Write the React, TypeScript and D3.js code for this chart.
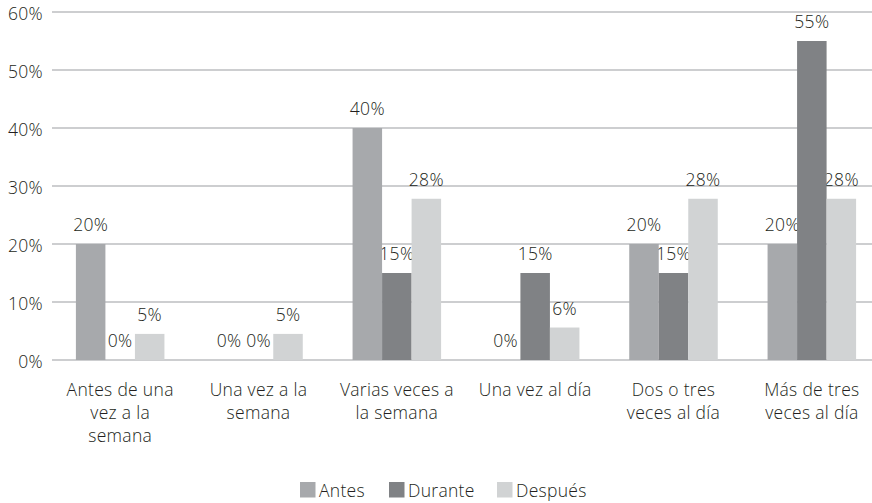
import React, { useEffect, useRef } from "react"
import * as d3 from "d3"

const categories = [
  "Antes de una vez a la semana",
  "Una vez a la semana",
  "Varias veces a la semana",
  "Una vez al día",
  "Dos o tres veces al día",
  "Más de tres veces al día",
]
const categoryLines = [
  ["Antes de una", "vez a la", "semana"],
  ["Una vez a la", "semana"],
  ["Varias veces a", "la semana"],
  ["Una vez al día"],
  ["Dos o tres", "veces al día"],
  ["Más de tres", "veces al día"],
]
const seriesNames = ["Antes", "Durante", "Después"]
const antes = [20, 0, 40, 0, 20, 20]
const durante = [0, 0, 15, 15, 15, 55]
const despues = [4.5, 4.5, 27.8, 5.6, 27.8, 27.8]
const yTicks = [0, 10, 20, 30, 40, 50, 60]

const colors = ["#a7a9ac", "#808285", "#d1d3d4"]
const textColor = "#231f20"
const font = "'Open Sans', sans-serif"

const styleText = (sel: any) =>
  sel.attr("font-size", 17.5)
    .attr("font-family", font)
    .attr("font-weight", 300)
    .attr("letter-spacing", 0.3)
    .attr("fill", textColor)

const App = () => {
  const svgRef = useRef<SVGSVGElement>(null)

  useEffect(() => {
    const width = 872
    const svg = d3.select(svgRef.current)
    svg.selectAll("*").remove()

    const values = [antes, durante, despues]
    const x0 = d3.scaleBand().domain(categories).range([51, 881]).paddingInner(0.36).paddingOuter(0.18)
    const x1 = d3.scaleBand().domain(seriesNames).range([0, x0.bandwidth()])
    const y = d3.scaleLinear().domain([0, 60]).range([360, 12])

    // grid
    svg.append("g")
      .selectAll("line")
      .data(yTicks)
      .join("line")
      .attr("x1", 52)
      .attr("x2", width)
      .attr("y1", d => y(d))
      .attr("y2", d => y(d))
      .attr("stroke", "#bcbec0")
      .attr("stroke-width", 1.5)

    const yAxis = d3.axisLeft(y).tickValues(yTicks).tickSize(0).tickPadding(9).tickFormat(d => d + "%")
    const ya = svg.append("g").attr("transform", "translate(52,0)").call(yAxis)
    ya.select(".domain").remove()
    styleText(ya.selectAll("text").attr("dy", "0.45em"))

    const rows = categories.flatMap((c, i) =>
      seriesNames.map((s, j) => ({ c, s, j, v: values[j][i] })))

    // labels go under the bars, neighbours cover them as in the original
    styleText(svg.append("g")
      .selectAll("text")
      .data(rows)
      .join("text")
      .attr("x", d => x0(d.c)! + x1(d.s)! + x1.bandwidth() / 2)
      .attr("y", d => y(d.v) - 13)
      .attr("text-anchor", "middle"))
      .text(d => Math.round(d.v) + "%")

    svg.append("g")
      .selectAll("rect")
      .data(rows)
      .join("rect")
      .attr("x", d => x0(d.c)! + x1(d.s)!)
      .attr("width", x1.bandwidth())
      .attr("y", d => y(d.v))
      .attr("height", d => y(0) - y(d.v))
      .attr("fill", d => colors[d.j])

    // category labels
    const cat = styleText(svg.append("g")
      .selectAll("text")
      .data(categories)
      .join("text")
      .attr("text-anchor", "middle"))
    cat.selectAll("tspan")
      .data((d, i) => categoryLines[i])
      .join("tspan")
      .attr("x", function () {
        const c = d3.select(this.parentNode as SVGTextElement).datum() as string
        return x0(c)! + x0.bandwidth() / 2
      })
      .attr("y", (d, i) => 396 + i * 23)
      .text(d => d)

    // legend
    const legendX = [300, 389, 497]
    const lg = svg.append("g")
      .selectAll("g")
      .data(seriesNames)
      .join("g")
      .attr("transform", (d, i) => `translate(${legendX[i]},482)`)
    lg.append("rect").attr("width", 15.5).attr("height", 15.5).attr("fill", (d, i) => colors[i])
    styleText(lg.append("text").attr("x", 19).attr("y", 15)).text(d => d)
  }, [])

  return (
    <svg ref={svgRef} width={872} height={503} style={{ position: "absolute", left: 0, top: 0, background: "#fff" }} />
  )
}

export default App
